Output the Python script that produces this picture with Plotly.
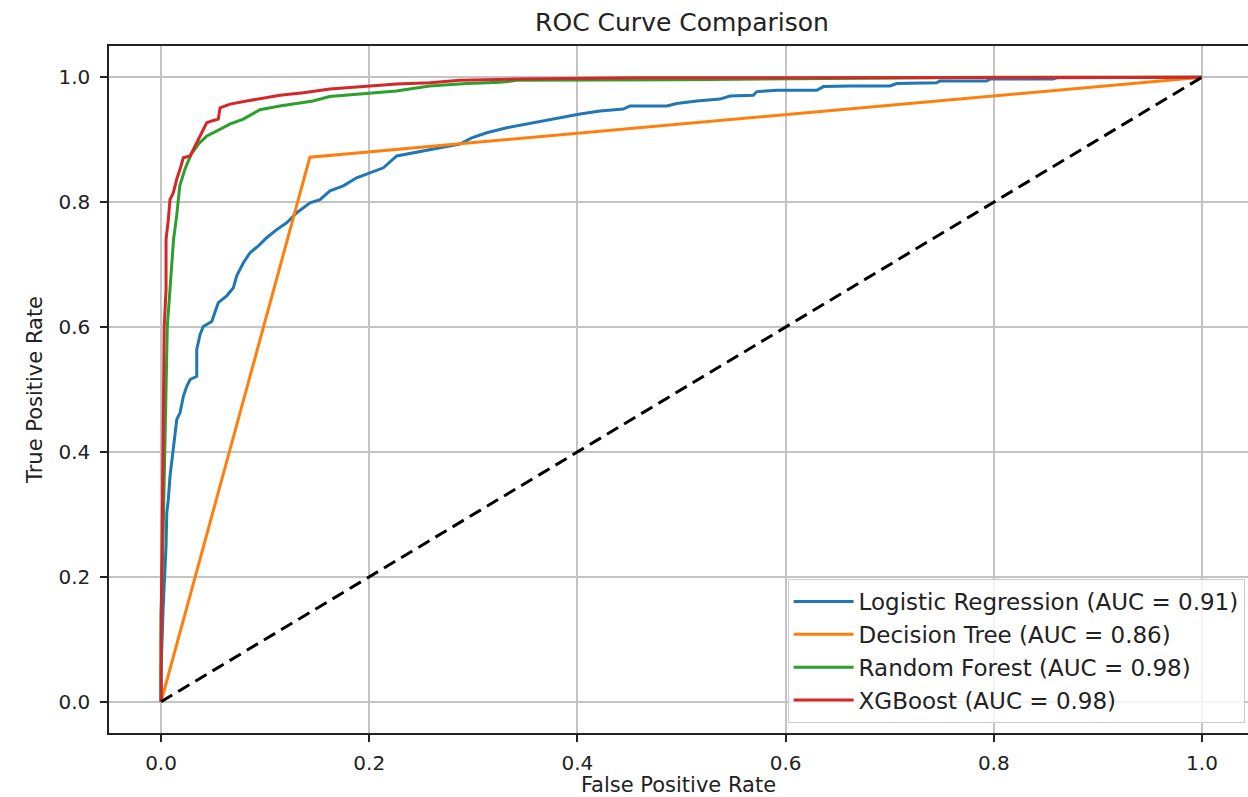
import plotly.graph_objects as go

# ---- data ----
lr_fpr = [0, 0.0, 0.002, 0.0038, 0.0048, 0.0055, 0.007, 0.0086, 0.0103, 0.0134, 0.0151, 0.0183, 0.0214,
          0.0247, 0.0279, 0.0343, 0.0343, 0.0375, 0.0406, 0.0487, 0.0519, 0.055, 0.0631, 0.0695, 0.0727,
          0.0791, 0.0855, 0.0935, 0.1015, 0.1111, 0.1207, 0.1304, 0.1431, 0.1527, 0.1623, 0.1751, 0.1879,
          0.2008, 0.2136, 0.2264, 0.2423, 0.2584, 0.2776, 0.287, 0.2985, 0.3129, 0.3321, 0.3513, 0.3641,
          0.3801, 0.4025, 0.4217, 0.4441, 0.4505, 0.4858, 0.4954, 0.5146, 0.537, 0.5466, 0.569, 0.5723,
          0.5915, 0.6299, 0.6364, 0.6619, 0.7003, 0.7068, 0.745, 0.7483, 0.793, 0.7964, 0.857, 0.8605, 1.0]
lr_tpr = [0, 0.05, 0.15, 0.21, 0.249, 0.302, 0.324, 0.361, 0.385, 0.42, 0.452, 0.463, 0.489,
          0.505, 0.516, 0.521, 0.564, 0.588, 0.601, 0.609, 0.625, 0.639, 0.65, 0.663, 0.682,
          0.703, 0.719, 0.73, 0.743, 0.756, 0.767, 0.783, 0.799, 0.804, 0.818, 0.826, 0.839,
          0.847, 0.855, 0.874, 0.879, 0.885, 0.891, 0.893, 0.903, 0.911, 0.919, 0.925, 0.93,
          0.935, 0.941, 0.946, 0.949, 0.954, 0.954, 0.958, 0.962, 0.965, 0.97, 0.971, 0.977,
          0.979, 0.979, 0.985, 0.986, 0.986, 0.99, 0.991, 0.994, 0.994, 0.997, 0.997, 0.999, 1.0]

dt_fpr = [0, 0.143, 1.0]
dt_tpr = [0, 0.872, 1.0]

rf_fpr = [0, 0.0, 0.002, 0.004, 0.006, 0.009, 0.012, 0.015, 0.018, 0.023, 0.029, 0.036, 0.044, 0.057,
          0.066, 0.079, 0.095, 0.114, 0.146, 0.162, 0.201, 0.226, 0.258, 0.294, 0.326, 0.342, 0.5, 0.8, 1.0]
rf_tpr = [0, 0.14, 0.27, 0.46, 0.6, 0.67, 0.74, 0.778, 0.826, 0.853, 0.877, 0.893, 0.906, 0.917,
          0.925, 0.933, 0.948, 0.954, 0.962, 0.969, 0.975, 0.978, 0.986, 0.99, 0.992, 0.995, 0.996, 1.0, 1.0]

xgb_fpr = [0, 0.0, 0.001, 0.002, 0.003, 0.0048, 0.0048, 0.007, 0.0086, 0.0118, 0.0151, 0.0183, 0.0214,
           0.0279, 0.0327, 0.0375, 0.0439, 0.0487, 0.055, 0.0567, 0.0663, 0.0823, 0.0983, 0.1143,
           0.1367, 0.1623, 0.1943, 0.2264, 0.2584, 0.268, 0.287, 0.342, 0.457, 1.0]
xgb_tpr = [0, 0.1, 0.26, 0.45, 0.6, 0.66, 0.74, 0.772, 0.804, 0.815, 0.837, 0.853, 0.871,
           0.874, 0.89, 0.906, 0.927, 0.93, 0.933, 0.951, 0.957, 0.962, 0.966, 0.971,
           0.975, 0.981, 0.985, 0.989, 0.991, 0.992, 0.995, 0.997, 0.999, 1.0]

chance = [0, 1]

names = ["Logistic Regression (AUC = 0.91)", "Decision Tree (AUC = 0.86)",
         "Random Forest (AUC = 0.98)", "XGBoost (AUC = 0.98)"]
colors = ["#1f77b4", "#ff7f0e", "#2ca02c", "#d62728"]
tick_vals = [0.0, 0.2, 0.4, 0.6, 0.8, 1.0]

FONT = "DejaVu Sans"

fig = go.Figure()
for xs, ys, nm, c in zip([lr_fpr, dt_fpr, rf_fpr, xgb_fpr], [lr_tpr, dt_tpr, rf_tpr, xgb_tpr], names, colors):
    fig.add_trace(go.Scatter(x=xs, y=ys, mode="lines", name=nm,
                             line=dict(color=c, width=3)))
fig.add_trace(go.Scatter(x=chance, y=chance, mode="lines", showlegend=False,
                         line=dict(color="black", width=3, dash="13px,7px")))

axis_common = dict(
    showgrid=True, gridcolor="#c4c4c4", gridwidth=1.5,
    zeroline=False, showline=True, linecolor="#222222", linewidth=1.5,
    ticks="outside", ticklen=7, tickwidth=1.5, tickcolor="#222222",
    tickvals=tick_vals, tickformat=".1f",
    tickfont=dict(family=FONT, size=20, color="#222222"),
)

fig.update_layout(
    width=1248, height=797,
    margin=dict(l=109, r=0, t=46, b=64),
    paper_bgcolor="white", plot_bgcolor="white",
    title=dict(text="ROC Curve Comparison", x=0.5465, xanchor="center", y=0.972, yanchor="middle",
               font=dict(family=FONT, size=25, color="#222222")),
    xaxis=dict(range=[-0.05, 1.0442], mirror=True,
               title=dict(text="False Positive Rate", font=dict(family=FONT, size=21, color="#222222"), standoff=8),
               ticklabelstandoff=4, **axis_common),
    yaxis=dict(range=[-0.05, 1.05],
               title=dict(text="True Positive Rate", font=dict(family=FONT, size=21, color="#222222"), standoff=10),
               ticklabelstandoff=6, **axis_common),
    legend=dict(x=0.997, y=0.0146, xanchor="right", yanchor="bottom",
                bgcolor="rgba(255,255,255,0.8)", bordercolor="#cccccc", borderwidth=1,
                font=dict(family=FONT, size=23, color="#222222"), itemwidth=60,
                tracegroupgap=0),
    showlegend=True,
)

fig.write_html("out.html", config={"displayModeBar": False})

# remove default page margin so the figure sits at the window's top-left corner
with open("out.html", "r", encoding="utf-8") as f:
    html = f.read()
html = html.replace("<head>", "<head><style>html,body{margin:0;padding:0;overflow:hidden;}</style>", 1)
with open("out.html", "w", encoding="utf-8") as f:
    f.write(html)
